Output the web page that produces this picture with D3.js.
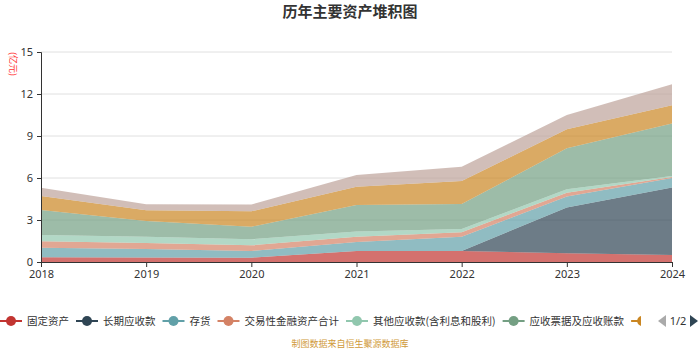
<!DOCTYPE html>
<html>
<head>
<meta charset="utf-8">
<script src="https://cdn.jsdelivr.net/npm/d3@7"></script>
<style>
  body { margin: 0; background: #fff; }
  text { font-family: "Noto Sans CJK SC", "Microsoft YaHei", sans-serif; }
</style>
</head>
<body>
<div id="chart"></div>
<script>
    var w = 700;
    var h = 350;

    // years on the x axis
    var years = ["2018", "2019", "2020", "2021", "2022", "2023", "2024"];

    // series values (亿元), bottom of the stack first
    var fixedAssets   = [0.34, 0.33, 0.31, 0.79, 0.79, 0.62, 0.50];
    var longRecv      = [0, 0, 0, 0, 0, 3.28, 4.83];
    var inventory     = [0.68, 0.60, 0.48, 0.64, 1.02, 0.77, 0.67];
    var tradingAssets = [0.46, 0.43, 0.40, 0.38, 0.31, 0.28, 0.07];
    var otherRecv     = [0.45, 0.45, 0.43, 0.36, 0.24, 0.24, 0.07];
    var notesRecv     = [1.78, 1.12, 0.90, 1.90, 1.78, 2.93, 3.76];
    var cash          = [1.00, 0.76, 1.10, 1.31, 1.65, 1.36, 1.30];
    var others        = [0.60, 0.43, 0.48, 0.83, 1.02, 1.02, 1.50];

    var names = ["固定资产", "长期应收款", "存货", "交易性金融资产合计",
                 "其他应收款(含利息和股利)", "应收票据及应收账款", "货币资金", "其他"];
    var colors = ["#c23531", "#2f4554", "#61a0a8", "#d48265",
                  "#91c7ae", "#749f83", "#ca8622", "#bda29a"];
    var yTicks = [0, 3, 6, 9, 12, 15];

    var allSeries = [fixedAssets, longRecv, inventory, tradingAssets,
                     otherRecv, notesRecv, cash, others];

    // build rows for d3.stack
    var rows = years.map(function(yr, i) {
        var r = { year: yr };
        names.forEach(function(n, k) { r[n] = allSeries[k][i]; });
        return r;
    });

    var padL = 41, padR = 672, padT = 52, padB = 262;

    var svg = d3.select("#chart")
            .append("svg")
            .attr("width", w)
            .attr("height", h);

    var x = d3.scalePoint().domain(years).range([padL, padR]);
    var y = d3.scaleLinear().domain([0, 15]).range([padB, padT]);

    // title
    svg.append("text")
        .attr("x", w / 2)
        .attr("y", 17)
        .attr("text-anchor", "middle")
        .attr("font-size", 15)
        .attr("font-weight", "bold")
        .attr("fill", "#333")
        .text("历年主要资产堆积图");

    // grid lines
    svg.append("g")
        .selectAll("line")
        .data(yTicks.slice(1))
        .enter()
        .append("line")
        .attr("x1", padL)
        .attr("x2", padR)
        .attr("y1", function(d) { return y(d); })
        .attr("y2", function(d) { return y(d); })
        .attr("stroke", "#e0e0e0");

    var stack = d3.stack().keys(names);
    var area = d3.area()
        .x(function(d) { return x(d.data.year); })
        .y0(function(d) { return y(d[0]); })
        .y1(function(d) { return y(d[1]); });

    svg.append("g")
        .selectAll("path")
        .data(stack(rows))
        .enter()
        .append("path")
        .attr("d", area)
        .attr("fill", function(d, i) { return colors[i]; })
        .attr("fill-opacity", 0.7);

    // axes
    var yAxis = svg.append("g")
        .attr("transform", "translate(" + padL + ",0)")
        .call(d3.axisLeft(y).tickValues(yTicks).tickSize(4).tickPadding(4));
    var xAxis = svg.append("g")
        .attr("transform", "translate(0," + padB + ")")
        .call(d3.axisBottom(x).tickSize(5).tickPadding(3));

    [yAxis, xAxis].forEach(function(g) {
        g.select(".domain").attr("stroke", "#333");
        g.selectAll(".tick line").attr("stroke", "#333");
        g.selectAll(".tick text")
            .attr("fill", "#333")
            .attr("font-size", 11)
            .style("font-family", "'Noto Sans', sans-serif");
    });

    // unit label
    svg.append("text")
        .attr("transform", "translate(10,64) rotate(90)")
        .attr("text-anchor", "middle")
        .attr("font-size", 9)
        .attr("fill", "#ff3333")
        .text("(亿元)");

    // legend, clipped before the page buttons
    svg.append("clipPath")
        .attr("id", "legclip")
        .append("rect")
        .attr("x", 0).attr("y", 300).attr("width", 641).attr("height", 40);

    var legend = svg.append("g").attr("clip-path", "url(#legclip)");
    var cx = 0, ly = 321;
    names.forEach(function(n, i) {
        var g = legend.append("g").attr("transform", "translate(" + cx + "," + ly + ")");
        g.append("line")
            .attr("x1", 0).attr("x2", 22)
            .attr("stroke", colors[i]).attr("stroke-width", 2);
        g.append("circle")
            .attr("cx", 11).attr("r", 5)
            .attr("fill", colors[i]);
        var t = g.append("text")
            .attr("x", 27)
            .attr("dy", "0.35em")
            .attr("font-size", 10.5)
            .attr("fill", "#333")
            .text(n);
        cx += 27 + t.node().getComputedTextLength() + 7;
    });

    // legend pager
    svg.append("path")
        .attr("d", "M666,315 L658,321 L666,327 Z")
        .attr("fill", "#aaa");
    svg.append("text")
        .attr("x", 678)
        .attr("y", 321)
        .attr("dy", "0.35em")
        .attr("text-anchor", "middle")
        .attr("font-size", 11)
        .attr("fill", "#333")
        .style("font-family", "'Noto Sans', sans-serif")
        .text("1/2");
    svg.append("path")
        .attr("d", "M690,315 L698,321 L690,327 Z")
        .attr("fill", "#2f4554");

    // source note
    svg.append("text")
        .attr("x", w / 2)
        .attr("y", 347)
        .attr("text-anchor", "middle")
        .attr("font-size", 9)
        .attr("fill", "#d09a3a")
        .text("制图数据来自恒生聚源数据库");
</script>
</body>
</html>
